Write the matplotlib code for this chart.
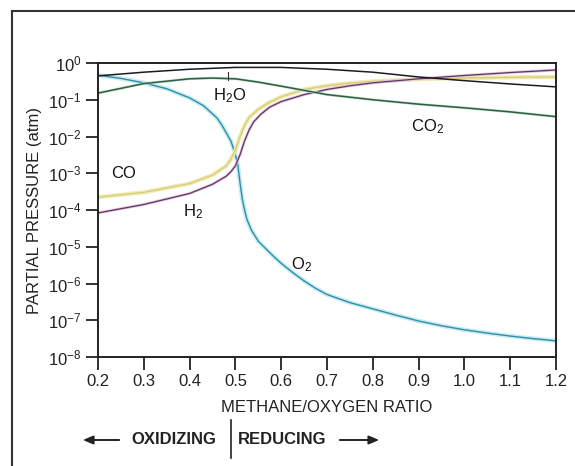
import numpy as np
import matplotlib
matplotlib.use("Agg")
import matplotlib.pyplot as plt
from matplotlib.lines import Line2D

plt.rcParams['font.family'] = ['Liberation Sans', 'DejaVu Sans']
plt.rcParams['mathtext.fontset'] = 'custom'
plt.rcParams['mathtext.rm'] = 'Liberation Sans'
plt.rcParams['mathtext.it'] = 'Liberation Sans'

# log10 of partial pressure (atm)
h2o_x = [0.2, 0.3, 0.4, 0.5, 0.6, 0.7, 0.8, 0.9, 1.0, 1.1, 1.2]
h2o_y = [-0.35, -0.25, -0.17, -0.12, -0.12, -0.17, -0.25, -0.38, -0.48, -0.57, -0.65]

co2_x = [0.2, 0.3, 0.4, 0.45, 0.5, 0.55, 0.6, 0.7, 0.8, 0.9, 1.0, 1.1, 1.2]
co2_y = [-0.82, -0.56, -0.43, -0.41, -0.43, -0.52, -0.63, -0.86, -1.0, -1.12, -1.22, -1.33, -1.46]

co_x = [0.2, 0.3, 0.4, 0.45, 0.48, 0.49, 0.5, 0.51, 0.52, 0.53, 0.55, 0.57, 0.6, 0.65, 0.7,
        0.75, 0.8, 0.9, 1.0, 1.1, 1.2]
co_y = [-3.65, -3.52, -3.28, -3.05, -2.8, -2.62, -2.38, -2.0, -1.7, -1.48, -1.26, -1.1, -0.92,
        -0.72, -0.62, -0.55, -0.5, -0.44, -0.41, -0.39, -0.38]

h2_x = [0.2, 0.3, 0.4, 0.45, 0.48, 0.49, 0.5, 0.51, 0.52, 0.53, 0.54, 0.555, 0.575, 0.6,
        0.65, 0.7, 0.75, 0.8, 0.9, 1.0, 1.1, 1.2]
h2_y = [-4.08, -3.85, -3.55, -3.3, -3.08, -2.96, -2.8, -2.5, -2.12, -1.82, -1.6, -1.4, -1.2,
        -1.05, -0.86, -0.72, -0.62, -0.54, -0.43, -0.34, -0.26, -0.19]

o2_x = [0.2, 0.25, 0.3, 0.35, 0.4, 0.43, 0.44, 0.46, 0.47, 0.48, 0.49, 0.495, 0.5, 0.505,
        0.51, 0.515, 0.52, 0.525, 0.535, 0.55, 0.57, 0.585, 0.6, 0.625, 0.65, 0.675, 0.7, 0.75,
        0.8, 0.85, 0.9, 0.95, 1.0, 1.05, 1.1, 1.15, 1.2]
o2_y = [-0.33, -0.42, -0.54, -0.7, -0.95, -1.16, -1.27, -1.5, -1.68, -1.9, -2.12, -2.3, -2.5,
        -2.75, -3.25, -3.7, -4.0, -4.25, -4.55, -4.85, -5.1, -5.28, -5.45, -5.7, -5.93, -6.13,
        -6.3, -6.52, -6.69, -6.86, -7.02, -7.15, -7.26, -7.35, -7.43, -7.5, -7.56]

xticks = [0.2, 0.3, 0.4, 0.5, 0.6, 0.7, 0.8, 0.9, 1.0, 1.1, 1.2]
ydecades = [0, -1, -2, -3, -4, -5, -6, -7, -8]


def p(v):
    return 10.0 ** np.array(v)


fig = plt.figure(figsize=(5.75, 4.66), dpi=100)
ax = fig.add_axes([98 / 575, 1 - 357 / 466, 458 / 575, 294 / 466])

# glowing printed lines: wide pale band + thin dark core
ax.plot(o2_x, p(o2_y), color='#c8ecf4', lw=3.2, solid_capstyle='round')
ax.plot(o2_x, p(o2_y), color='#2f8ea3', lw=1.0)
ax.plot(co_x, p(co_y), color='#efeab0', lw=3.0)
ax.plot(co_x, p(co_y), color='#d6cc78', lw=0.9)
ax.plot(h2_x, p(h2_y), color='#e6bfe2', lw=2.0)
ax.plot(h2_x, p(h2_y), color='#5a3a5e', lw=0.9)
ax.plot(co2_x, p(co2_y), color='#c8e4d0', lw=2.0)
ax.plot(co2_x, p(co2_y), color='#2f5d45', lw=1.1)
ax.plot(h2o_x, p(h2o_y), color='#1c1c1c', lw=1.1)

ax.set_yscale('log')
ax.set_xlim(0.2, 1.2)
ax.set_ylim(1e-8, 1)
ax.set_xticks(xticks)
ax.set_xticklabels([f"{t:.1f}" for t in xticks])
ax.set_yticks([10.0 ** d for d in ydecades])
ax.set_yticklabels([f"$10^{{{d}}}$" for d in ydecades])
ax.yaxis.set_minor_locator(matplotlib.ticker.NullLocator())
ax.tick_params(axis='both', direction='out', length=9, width=1.3, labelsize=12,
               colors='#222222', pad=3)
for s in ax.spines.values():
    s.set_linewidth(1.4)
    s.set_color('#222222')

ax.set_xlabel('METHANE/OXYGEN RATIO', fontsize=12, color='#222222', labelpad=8)
ax.set_ylabel('PARTIAL PRESSURE (atm)', fontsize=12, color='#222222', labelpad=4)

# curve labels
lab = dict(fontsize=12, color='#111111', ha='center', va='center')
ax.text(0.487, 10 ** -0.9, 'H$_2$O', **lab)
ax.plot([0.484, 0.484], [10 ** -0.25, 10 ** -0.46], color='#333333', lw=0.8)
ax.text(0.92, 10 ** -1.74, 'CO$_2$', **lab)
ax.text(0.255, 10 ** -3.0, 'CO', **lab)
ax.text(0.407, 10 ** -4.05, 'H$_2$', **lab)
ax.text(0.645, 10 ** -5.5, 'O$_2$', **lab)

# bottom annotation
ty = 1 - 440 / 466
fig.text(174 / 575, ty, 'OXIDIZING', fontsize=12, fontweight='bold', ha='center', va='center',
         color='#222222')
fig.text(238 / 575, ty, 'REDUCING', fontsize=12, fontweight='bold', ha='left', va='center',
         color='#222222')
fig.add_artist(Line2D([231 / 575, 231 / 575], [1 - 420 / 466, 1 - 458 / 466], color='#222222', lw=1.2))
fig.patches.append(matplotlib.patches.FancyArrowPatch((122 / 575, ty), (80 / 575, ty), transform=fig.transFigure,
                                                      arrowstyle='-|>,head_length=6,head_width=2.5', color='#222222', lw=1.4))
fig.patches.append(matplotlib.patches.FancyArrowPatch((337 / 575, ty), (382 / 575, ty), transform=fig.transFigure,
                                                      arrowstyle='-|>,head_length=6,head_width=2.5', color='#222222', lw=1.4))

# outer frame (left and top edges)
fig.add_artist(Line2D([12 / 575, 12 / 575], [0, 1 - 11 / 466], color='#333333', lw=1.5))
fig.add_artist(Line2D([12 / 575, 1], [1 - 11 / 466, 1 - 11 / 466], color='#333333', lw=1.5))

fig.savefig('out.png', dpi=100)
